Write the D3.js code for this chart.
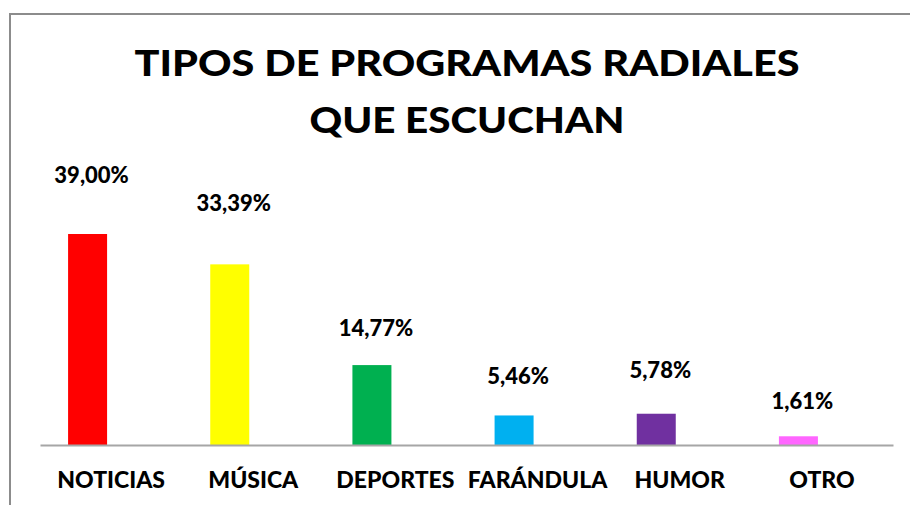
<!DOCTYPE html>
<html>
<head>
<meta charset="utf-8">
<script src="https://cdn.jsdelivr.net/npm/d3@7"></script>
<style>
  body { margin: 0; background: #fff; }
  svg { display: block; font-family: Lato, "Open Sans", sans-serif; font-weight: 900; }
</style>
</head>
<body>
<svg width="910" height="505"></svg>
<script>
const categories = ['NOTICIAS', 'MÚSICA', 'DEPORTES', 'FARÁNDULA', 'HUMOR', 'OTRO']
const values = [39.00, 33.39, 14.77, 5.46, 5.78, 1.61]
const labels = ['39,00%', '33,39%', '14,77%', '5,46%', '5,78%', '1,61%']
const colors = ['#ff0000', '#ffff00', '#00b050', '#00b0f0', '#7030a0', '#ff66ff']
const titleLines = ['TIPOS DE PROGRAMAS RADIALES', 'QUE ESCUCHAN']

// labels were nudged by hand in the original, keep that
const labelLift = [51, 53, 29, 31, 36, 27]

const svg = d3.select('svg')
const baseY = 445

const x = d3.scaleBand().domain(categories).range([40, 893])
const y = d3.scaleLinear().domain([0, 39]).range([baseY, 234])
const barW = 39
// bars sit a bit left of the band centre in the original
const barX = c => x(c) + x.bandwidth() / 2 - 23.5 - barW / 2

// chart frame (only top + left visible in the crop)
svg.append('path')
  .attr('d', 'M10,505V14H910')
  .attr('fill', 'none')
  .attr('stroke', '#8c8c8c')
  .attr('stroke-width', 2)

const titleW = [665, 315]
svg.append('text')
  .attr('text-anchor', 'middle')
  .attr('font-size', 36)
  .selectAll('tspan')
  .data(titleLines)
  .enter().append('tspan')
  .attr('x', 467)
  .attr('y', (d, i) => 76 + i * 57)
  .attr('textLength', (d, i) => titleW[i])
  .attr('lengthAdjust', 'spacingAndGlyphs')
  .text(d => d)

svg.selectAll('.bar')
  .data(categories)
  .enter().append('rect')
  .attr('class', 'bar')
  .attr('x', barX)
  .attr('y', (d, i) => y(values[i]))
  .attr('width', barW)
  .attr('height', (d, i) => baseY - y(values[i]))
  .attr('fill', (d, i) => colors[i])

const axis = svg.append('g')
  .attr('transform', `translate(0,${baseY})`)
  .call(d3.axisBottom(x).tickSize(0).tickPadding(27).tickSizeOuter(0))
  .attr('font-family', null)
  .attr('font-size', null)
axis.select('.domain').attr('stroke', '#a6a6a6').attr('stroke-width', 2)
axis.selectAll('text')
  .attr('font-size', 23)
  .attr('fill', '#000')

svg.selectAll('.lbl')
  .data(labels)
  .enter().append('text')
  .attr('class', 'lbl')
  .attr('x', (d, i) => barX(categories[i]) + barW / 2 + 4)
  .attr('y', (d, i) => y(values[i]) - labelLift[i])
  .attr('text-anchor', 'middle')
  .attr('font-size', 22)
  .text(d => d)
</script>
</body>
</html>
